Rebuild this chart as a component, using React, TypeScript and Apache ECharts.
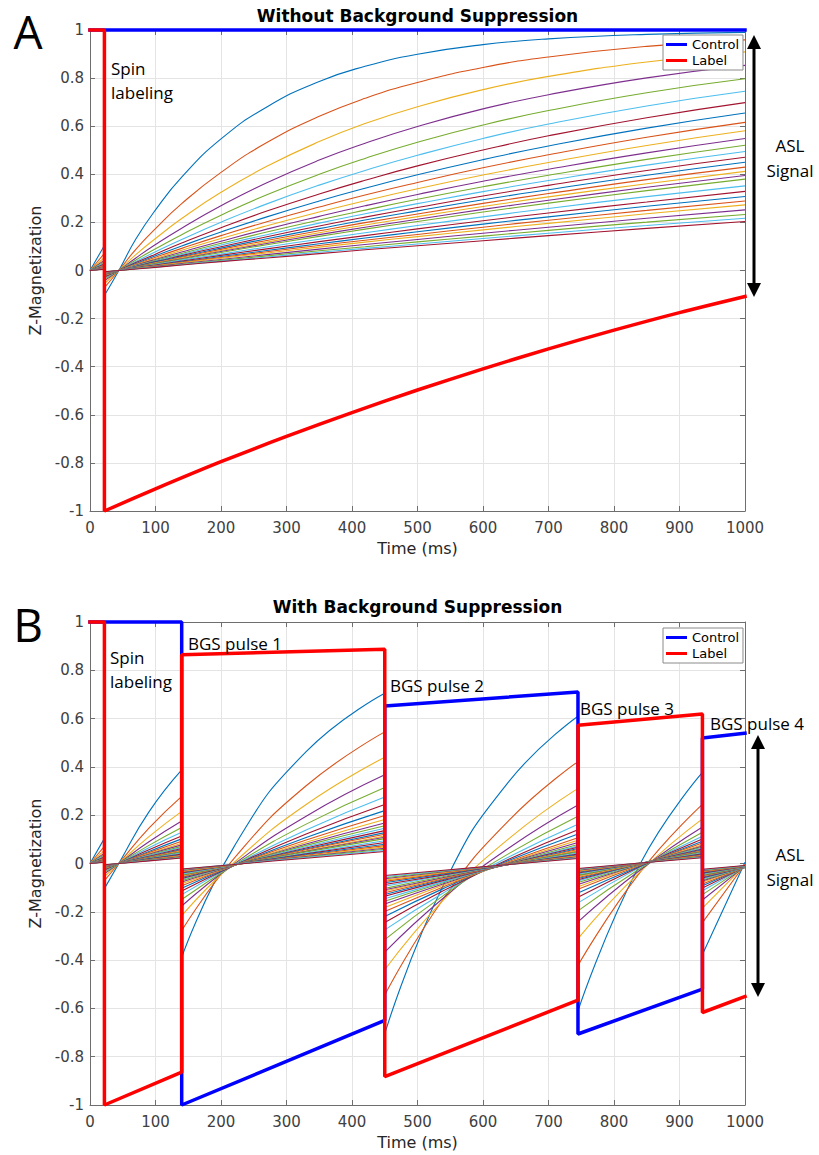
import React, { useEffect, useRef } from "react";
import * as echarts from "echarts";

// Tissue T1 values (ms) of the coloured curves
const tissueT1 = [200, 300, 400, 500, 600, 700, 800, 900, 1000, 1100, 1200, 1300, 1400, 1500, 1600, 1700, 1800, 1900, 2000, 2200, 2400, 2600, 2800, 3000, 3300, 3600, 3900, 4200];

// Panel A (without background suppression) – sample times (ms)
const timeA = [0, 22, 22, 44, 70, 100, 140, 200, 270, 350, 420, 500, 600, 700, 850, 1000];
const tissueA = [
  [0, 0.104, -0.104, 0, 0.131, 0.252, 0.388, 0.547, 0.680, 0.786, 0.849, 0.899, 0.939, 0.963, 0.982, 0.99],
  [0, 0.071, -0.071, 0, 0.088, 0.174, 0.278, 0.408, 0.532, 0.641, 0.716, 0.782, 0.844, 0.888, 0.932, 0.959],
  [0, 0.054, -0.054, 0, 0.066, 0.133, 0.216, 0.325, 0.433, 0.536, 0.611, 0.681, 0.752, 0.807, 0.867, 0.909],
  [0, 0.043, -0.043, 0, 0.052, 0.108, 0.176, 0.269, 0.365, 0.459, 0.529, 0.599, 0.672, 0.731, 0.801, 0.853],
  [0, 0.036, -0.036, 0, 0.044, 0.090, 0.149, 0.230, 0.315, 0.400, 0.466, 0.533, 0.605, 0.665, 0.739, 0.797],
  [0, 0.031, -0.031, 0, 0.037, 0.078, 0.129, 0.201, 0.277, 0.355, 0.416, 0.479, 0.549, 0.609, 0.684, 0.745],
  [0, 0.027, -0.027, 0, 0.033, 0.068, 0.114, 0.178, 0.247, 0.318, 0.375, 0.435, 0.501, 0.560, 0.635, 0.698],
  [0, 0.024, -0.024, 0, 0.029, 0.061, 0.102, 0.160, 0.223, 0.289, 0.342, 0.398, 0.461, 0.518, 0.592, 0.655],
  [0, 0.022, -0.022, 0, 0.026, 0.055, 0.092, 0.145, 0.203, 0.264, 0.314, 0.366, 0.427, 0.481, 0.554, 0.616],
  [0, 0.020, -0.020, 0, 0.024, 0.050, 0.084, 0.133, 0.186, 0.243, 0.290, 0.340, 0.397, 0.449, 0.520, 0.581],
  [0, 0.018, -0.018, 0, 0.022, 0.046, 0.077, 0.122, 0.172, 0.225, 0.269, 0.316, 0.371, 0.421, 0.489, 0.549],
  [0, 0.017, -0.017, 0, 0.020, 0.042, 0.071, 0.113, 0.160, 0.210, 0.251, 0.296, 0.348, 0.396, 0.462, 0.521],
  [0, 0.016, -0.016, 0, 0.019, 0.039, 0.066, 0.106, 0.149, 0.197, 0.236, 0.278, 0.328, 0.374, 0.438, 0.495],
  [0, 0.015, -0.015, 0, 0.017, 0.037, 0.062, 0.099, 0.140, 0.185, 0.222, 0.262, 0.310, 0.354, 0.416, 0.471],
  [0, 0.014, -0.014, 0, 0.016, 0.035, 0.058, 0.093, 0.132, 0.174, 0.210, 0.248, 0.294, 0.336, 0.396, 0.450],
  [0, 0.013, -0.013, 0, 0.015, 0.032, 0.055, 0.088, 0.125, 0.165, 0.199, 0.235, 0.279, 0.320, 0.378, 0.430],
  [0, 0.012, -0.012, 0, 0.014, 0.031, 0.052, 0.083, 0.118, 0.157, 0.189, 0.224, 0.266, 0.306, 0.361, 0.412],
  [0, 0.012, -0.012, 0, 0.014, 0.029, 0.049, 0.079, 0.112, 0.149, 0.180, 0.213, 0.254, 0.292, 0.346, 0.395],
  [0, 0.011, -0.011, 0, 0.013, 0.028, 0.047, 0.075, 0.107, 0.142, 0.172, 0.204, 0.243, 0.280, 0.332, 0.380],
  [0, 0.010, -0.010, 0, 0.012, 0.025, 0.043, 0.068, 0.098, 0.130, 0.157, 0.187, 0.223, 0.258, 0.307, 0.352],
  [0, 0.009, -0.009, 0, 0.011, 0.023, 0.039, 0.063, 0.090, 0.120, 0.145, 0.173, 0.207, 0.239, 0.285, 0.329],
  [0, 0.008, -0.008, 0, 0.010, 0.021, 0.036, 0.058, 0.083, 0.111, 0.135, 0.161, 0.193, 0.223, 0.267, 0.308],
  [0, 0.008, -0.008, 0, 0.009, 0.020, 0.034, 0.054, 0.078, 0.104, 0.126, 0.150, 0.180, 0.209, 0.250, 0.289],
  [0, 0.007, -0.007, 0, 0.009, 0.019, 0.032, 0.051, 0.073, 0.097, 0.118, 0.141, 0.169, 0.196, 0.236, 0.273],
  [0, 0.007, -0.007, 0, 0.008, 0.017, 0.029, 0.046, 0.066, 0.089, 0.108, 0.129, 0.155, 0.180, 0.217, 0.252],
  [0, 0.006, -0.006, 0, 0.007, 0.015, 0.026, 0.042, 0.061, 0.082, 0.099, 0.119, 0.143, 0.167, 0.201, 0.233],
  [0, 0.006, -0.006, 0, 0.007, 0.014, 0.024, 0.039, 0.056, 0.076, 0.092, 0.110, 0.133, 0.155, 0.187, 0.217],
  [0, 0.005, -0.005, 0, 0.006, 0.013, 0.023, 0.037, 0.052, 0.070, 0.086, 0.103, 0.124, 0.145, 0.175, 0.204],
];
const controlTimeA = [0, 1000];
const controlA = [1, 1];
const labelTimeA = [0, 22, 22, 100, 200, 300, 400, 500, 600, 700, 800, 900, 1000];
const labelA = [1, 1, -1, -0.908, -0.795, -0.69, -0.591, -0.497, -0.409, -0.326, -0.248, -0.175, -0.108];

// Panel B (with background suppression) – sample times (ms)
const timeB = [0, 22, 22, 44, 90, 140, 140, 220, 330, 450, 450, 540, 640, 745, 745, 840, 935, 935, 1000];
const tissueB = [
  [0, 0.104, -0.104, 0, 0.214, 0.388, -0.388, 0.070, 0.463, 0.705, -0.705, -0.087, 0.341, 0.610, -0.610, -0.001, 0.377, -0.377, 0.005],
  [0, 0.071, -0.071, 0, 0.146, 0.278, -0.278, 0.021, 0.322, 0.545, -0.545, -0.145, 0.180, 0.422, -0.422, -0.036, 0.245, -0.245, -0.003],
  [0, 0.054, -0.054, 0, 0.111, 0.216, -0.216, 0.004, 0.244, 0.440, -0.440, -0.150, 0.104, 0.311, -0.311, -0.034, 0.185, -0.185, -0.007],
  [0, 0.043, -0.043, 0, 0.090, 0.176, -0.176, -0.002, 0.196, 0.367, -0.367, -0.142, 0.065, 0.242, -0.242, -0.027, 0.151, -0.151, -0.011],
  [0, 0.036, -0.036, 0, 0.075, 0.149, -0.149, -0.006, 0.163, 0.315, -0.315, -0.132, 0.042, 0.196, -0.196, -0.021, 0.129, -0.129, -0.013],
  [0, 0.031, -0.031, 0, 0.065, 0.129, -0.129, -0.007, 0.139, 0.275, -0.275, -0.121, 0.028, 0.163, -0.163, -0.015, 0.113, -0.113, -0.014],
  [0, 0.027, -0.027, 0, 0.057, 0.114, -0.114, -0.008, 0.122, 0.244, -0.244, -0.112, 0.019, 0.140, -0.140, -0.012, 0.101, -0.101, -0.015],
  [0, 0.024, -0.024, 0, 0.050, 0.102, -0.102, -0.008, 0.108, 0.219, -0.219, -0.103, 0.013, 0.122, -0.122, -0.010, 0.092, -0.092, -0.016],
  [0, 0.022, -0.022, 0, 0.045, 0.092, -0.092, -0.008, 0.097, 0.199, -0.199, -0.096, 0.008, 0.107, -0.107, -0.007, 0.085, -0.085, -0.017],
  [0, 0.020, -0.020, 0, 0.041, 0.084, -0.084, -0.008, 0.088, 0.182, -0.182, -0.089, 0.005, 0.096, -0.096, -0.005, 0.078, -0.078, -0.016],
  [0, 0.018, -0.018, 0, 0.038, 0.077, -0.077, -0.008, 0.081, 0.168, -0.168, -0.084, 0.003, 0.087, -0.087, -0.004, 0.072, -0.072, -0.016],
  [0, 0.017, -0.017, 0, 0.035, 0.071, -0.071, -0.007, 0.075, 0.156, -0.156, -0.079, 0.001, 0.079, -0.079, -0.003, 0.068, -0.068, -0.016],
  [0, 0.016, -0.016, 0, 0.033, 0.066, -0.066, -0.007, 0.069, 0.146, -0.146, -0.075, -0.001, 0.072, -0.072, -0.002, 0.064, -0.064, -0.016],
  [0, 0.015, -0.015, 0, 0.030, 0.062, -0.062, -0.007, 0.064, 0.136, -0.136, -0.070, -0.001, 0.067, -0.067, -0.001, 0.060, -0.060, -0.015],
  [0, 0.014, -0.014, 0, 0.028, 0.058, -0.058, -0.006, 0.060, 0.128, -0.128, -0.066, -0.002, 0.062, -0.062, -0.001, 0.057, -0.057, -0.015],
  [0, 0.013, -0.013, 0, 0.027, 0.055, -0.055, -0.006, 0.057, 0.121, -0.121, -0.063, -0.003, 0.058, -0.058, -0.001, 0.054, -0.054, -0.014],
  [0, 0.012, -0.012, 0, 0.025, 0.052, -0.052, -0.006, 0.053, 0.114, -0.114, -0.060, -0.002, 0.054, -0.054, 0.000, 0.052, -0.052, -0.015],
  [0, 0.012, -0.012, 0, 0.024, 0.049, -0.049, -0.006, 0.051, 0.109, -0.109, -0.058, -0.003, 0.050, -0.050, 0.001, 0.050, -0.050, -0.015],
  [0, 0.011, -0.011, 0, 0.023, 0.047, -0.047, -0.006, 0.048, 0.103, -0.103, -0.054, -0.003, 0.048, -0.048, 0.001, 0.047, -0.047, -0.014],
  [0, 0.010, -0.010, 0, 0.021, 0.043, -0.043, -0.006, 0.043, 0.094, -0.094, -0.050, -0.004, 0.043, -0.043, 0.001, 0.043, -0.043, -0.013],
  [0, 0.009, -0.009, 0, 0.019, 0.039, -0.039, -0.005, 0.040, 0.087, -0.087, -0.047, -0.004, 0.039, -0.039, 0.001, 0.040, -0.040, -0.012],
  [0, 0.008, -0.008, 0, 0.018, 0.036, -0.036, -0.005, 0.037, 0.080, -0.080, -0.043, -0.004, 0.036, -0.036, 0.001, 0.037, -0.037, -0.011],
  [0, 0.008, -0.008, 0, 0.016, 0.034, -0.034, -0.005, 0.034, 0.074, -0.074, -0.040, -0.004, 0.033, -0.033, 0.001, 0.035, -0.035, -0.011],
  [0, 0.007, -0.007, 0, 0.015, 0.032, -0.032, -0.005, 0.031, 0.069, -0.069, -0.037, -0.003, 0.031, -0.031, 0.001, 0.032, -0.032, -0.010],
  [0, 0.007, -0.007, 0, 0.014, 0.029, -0.029, -0.004, 0.029, 0.063, -0.063, -0.034, -0.003, 0.028, -0.028, 0.001, 0.030, -0.030, -0.010],
  [0, 0.006, -0.006, 0, 0.013, 0.026, -0.026, -0.004, 0.027, 0.059, -0.059, -0.032, -0.004, 0.025, -0.025, 0.002, 0.028, -0.028, -0.010],
  [0, 0.006, -0.006, 0, 0.012, 0.024, -0.024, -0.003, 0.025, 0.054, -0.054, -0.030, -0.004, 0.023, -0.023, 0.002, 0.026, -0.026, -0.009],
  [0, 0.005, -0.005, 0, 0.011, 0.023, -0.023, -0.004, 0.022, 0.050, -0.050, -0.028, -0.004, 0.021, -0.021, 0.002, 0.024, -0.024, -0.008],
];
const controlTimeB = [0, 140, 140, 450, 450, 745, 745, 935, 935, 1000];
const controlB = [1, 1, -1, -0.65, 0.652, 0.71, -0.706, -0.52, 0.52, 0.54];
const labelTimeB = [0, 22, 22, 140, 140, 450, 450, 745, 745, 935, 935, 1000];
const labelB = [1, 1, -1, -0.864, 0.864, 0.887, -0.882, -0.566, 0.572, 0.619, -0.617, -0.551];

const matlabColors = ["#0072BD", "#D95319", "#EDB120", "#7E2F8E", "#77AC30", "#4DBEEE", "#A2142F"];

const FONT = '"DejaVu Sans", sans-serif';
const ANNOT = '"Open Sans", sans-serif';
const AX = "#6e6e6e";
const LBL = "#404040";
const GRID = "#e4e4e4";

function toPoints(times: number[], values: number[], breakAtJumps: boolean) {
  const pts: any[] = [];
  times.forEach((t, i) => {
    if (breakAtJumps && i > 0 && t === times[i - 1]) pts.push([t, "-"]);
    pts.push([t, values[i]]);
  });
  return pts;
}

function xAxes(g: number) {
  const common = {
    type: "value",
    gridIndex: g,
    min: 0,
    max: 1000,
    interval: 100,
    axisLine: { show: true, onZero: false, lineStyle: { color: AX, width: 1 } },
    axisTick: { show: true, inside: true, length: 5, lineStyle: { color: AX } },
  };
  return [
    {
      ...common,
      position: "bottom",
      axisLabel: { color: LBL, fontSize: 15, fontFamily: FONT, margin: 9, formatter: (v: number) => String(v) },
      splitLine: { show: true, lineStyle: { color: GRID, width: 1 } },
      name: "Time (ms)",
      nameLocation: "middle",
      nameGap: 29,
      nameTextStyle: { color: "#262626", fontSize: 16, fontFamily: FONT },
    },
    {
      ...common,
      position: "top",
      axisLabel: { show: false },
      splitLine: { show: false },
    },
  ];
}

function yAxes(g: number) {
  const common = {
    type: "value",
    gridIndex: g,
    min: -1,
    max: 1,
    interval: 0.2,
    axisLine: { show: true, onZero: false, lineStyle: { color: AX, width: 1 } },
    axisTick: { show: true, inside: true, length: 5, lineStyle: { color: AX } },
  };
  return [
    {
      ...common,
      position: "left",
      axisLabel: {
        color: LBL,
        fontSize: 15,
        fontFamily: FONT,
        margin: 6,
        formatter: (v: number) => {
          const r = Math.round(v * 10) / 10;
          return r === 0 ? "0" : String(r);
        },
      },
      splitLine: { show: true, lineStyle: { color: GRID, width: 1 } },
      name: "Z-Magnetization",
      nameLocation: "middle",
      nameGap: 38,
      nameRotate: 90,
      nameTextStyle: { color: "#262626", fontSize: 16, fontFamily: FONT },
    },
    {
      ...common,
      position: "right",
      axisLabel: { show: false },
      splitLine: { show: false },
    },
  ];
}

function text(str: string, x: number, y: number, font: string, align = "left") {
  return {
    type: "text",
    x,
    y,
    z: 100,
    style: { text: str, font, fill: "#000", textAlign: align, textVerticalAlign: "middle" },
  };
}

function arrow(x: number, yTop: number, yBot: number) {
  const hl = 14;
  const hw = 7;
  return [
    { type: "line", z: 100, shape: { x1: x, y1: yTop + hl - 2, x2: x, y2: yBot - hl + 2 }, style: { stroke: "#000", lineWidth: 3 } },
    { type: "polygon", z: 100, shape: { points: [[x, yTop], [x - hw, yTop + hl], [x + hw, yTop + hl]] }, style: { fill: "#000" } },
    { type: "polygon", z: 100, shape: { points: [[x, yBot], [x - hw, yBot - hl], [x + hw, yBot - hl]] }, style: { fill: "#000" } },
  ];
}

function legendFor(top: number) {
  return {
    data: ["Control", "Label"],
    left: 663,
    top,
    orient: "vertical",
    icon: "rect",
    itemWidth: 21,
    itemHeight: 3,
    itemGap: 3,
    padding: [3, 4, 3, 3],
    borderColor: "#8a8a8a",
    borderWidth: 1,
    borderRadius: 0,
    backgroundColor: "#ffffff",
    selectedMode: false,
    z: 10,
    textStyle: { fontFamily: FONT, fontSize: 13, color: "#000" },
  };
}

export default function App() {
  const ref = useRef<HTMLDivElement>(null);

  useEffect(() => {
    if (!ref.current) return;
    const chart = echarts.init(ref.current, null, { renderer: "svg" });

    const series: any[] = [];
    const panels = [
      { time: timeA, rows: tissueA, ct: controlTimeA, cv: controlA, lt: labelTimeA, lv: labelA },
      { time: timeB, rows: tissueB, ct: controlTimeB, cv: controlB, lt: labelTimeB, lv: labelB },
    ];
    panels.forEach((p, g) => {
      p.rows.forEach((row, k) => {
        const color = matlabColors[k % matlabColors.length];
        series.push({
          type: "line",
          name: `T1 ${tissueT1[k]} ms`,
          xAxisIndex: g * 2,
          yAxisIndex: g * 2,
          data: toPoints(p.time, row, true),
          showSymbol: false,
          symbol: "none",
          smooth: 0.5,
          connectNulls: false,
          silent: true,
          z: 2,
          lineStyle: { width: 1.1, color },
          itemStyle: { color },
        });
      });
      series.push({
        type: "line",
        name: "Control",
        xAxisIndex: g * 2,
        yAxisIndex: g * 2,
        data: toPoints(p.ct, p.cv, false),
        showSymbol: false,
        symbol: "none",
        clip: false,
        silent: true,
        z: 3,
        lineStyle: { width: 3.5, color: "#0000FF", cap: "square" },
        itemStyle: { color: "#0000FF" },
      });
      series.push({
        type: "line",
        name: "Label",
        xAxisIndex: g * 2,
        yAxisIndex: g * 2,
        data: toPoints(p.lt, p.lv, false),
        showSymbol: false,
        symbol: "none",
        smooth: g === 0 ? 0.3 : false,
        clip: false,
        silent: true,
        z: 3,
        lineStyle: { width: 3.5, color: "#FF0000", cap: "square" },
        itemStyle: { color: "#FF0000" },
      });
    });

    const graphic: any[] = [
      text("Without Background Suppression", 417.5, 16, `bold 17px ${FONT}`, "center"),
      text("With Background Suppression", 417.5, 607, `bold 17px ${FONT}`, "center"),
      text("A", 28, 31, `46px ${ANNOT}`, "center"),
      text("B", 28, 624, `46px ${ANNOT}`, "center"),
      text("Spin", 111, 68, `17px ${ANNOT}`),
      text("labeling", 111, 92, `17px ${ANNOT}`),
      text("Spin", 110, 657, `17px ${ANNOT}`),
      text("labeling", 110, 681, `17px ${ANNOT}`),
      text("BGS pulse 1", 188, 643, `17px ${ANNOT}`),
      text("BGS pulse 2", 390, 685, `17px ${ANNOT}`),
      text("BGS pulse 3", 580, 708, `17px ${ANNOT}`),
      text("BGS pulse 4", 710, 723, `17px ${ANNOT}`),
      text("ASL", 790, 145, `17px ${ANNOT}`, "center"),
      text("Signal", 790, 170, `17px ${ANNOT}`, "center"),
      text("ASL", 790, 854, `17px ${ANNOT}`, "center"),
      text("Signal", 790, 879, `17px ${ANNOT}`, "center"),
      ...arrow(754, 35, 297),
      ...arrow(758, 735, 997),
    ];

    chart.setOption({
      animation: false,
      backgroundColor: "#ffffff",
      grid: [
        { left: 90, top: 30, width: 655, height: 481, outerBoundsMode: "none" },
        { left: 90, top: 622, width: 655, height: 483, outerBoundsMode: "none" },
      ],
      xAxis: [...xAxes(0), ...xAxes(1)],
      yAxis: [...yAxes(0), ...yAxes(1)],
      legend: [legendFor(35), legendFor(628)],
      series,
      graphic,
    });

    return () => chart.dispose();
  }, []);

  return (
    <div
      ref={ref}
      style={{ position: "fixed", left: 0, top: 0, width: 819, height: 1155, background: "#fff" }}
    />
  );
}
